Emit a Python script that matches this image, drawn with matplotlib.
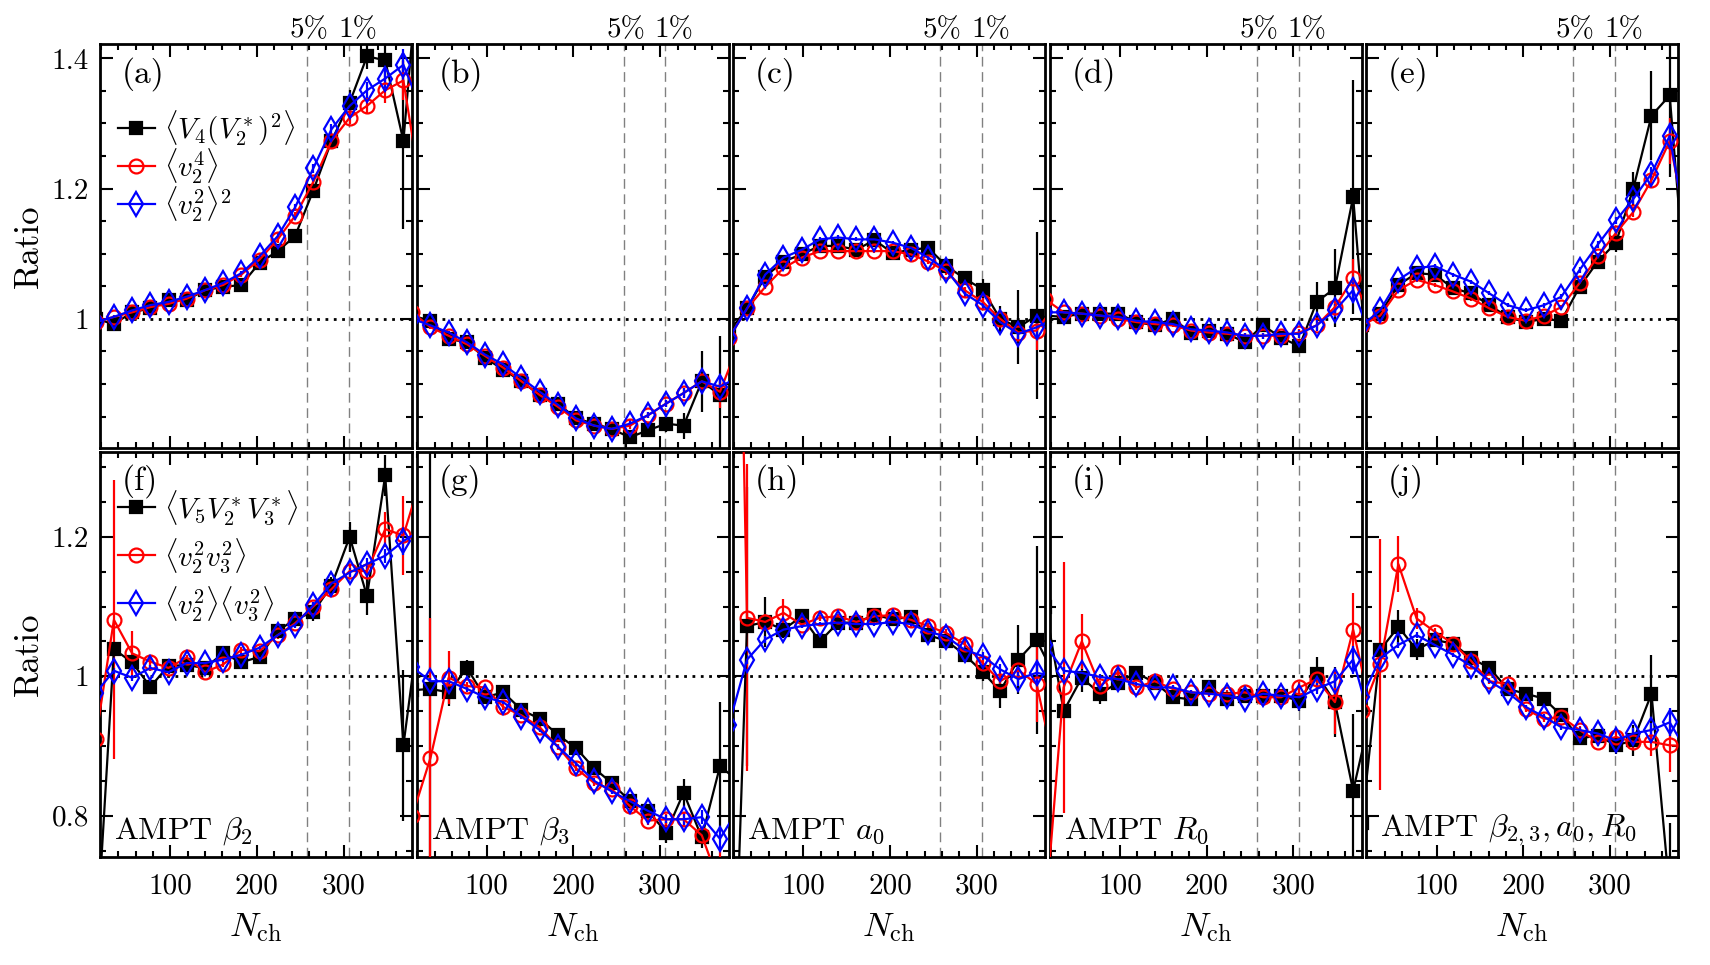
import matplotlib
matplotlib.use("Agg")
import matplotlib.pyplot as plt
import matplotlib.transforms as mtransforms
from matplotlib.ticker import MultipleLocator, FuncFormatter

plt.rcParams["font.family"] = "cmr10"
plt.rcParams["mathtext.fontset"] = "cm"
plt.rcParams["axes.formatter.use_mathtext"] = True
plt.rcParams["axes.unicode_minus"] = False

# N_ch bin positions (first and last lie outside the axes and only feed the clipped lines)
nch = [14, 35, 56, 77, 98, 119, 140, 161, 182, 203, 224, 244, 265, 286, 307, 327, 348, 369, 390]

# ---- top row: <V4 (V2*)^2>, <v2^4>, <v2^2>^2
a_blk = [1.0, 0.992, 1.010, 1.016, 1.029, 1.029, 1.044, 1.049, 1.052, 1.086, 1.104, 1.127, 1.197, 1.273, 1.332, 1.403, 1.397, 1.273, 1.60]
a_blk_err = [0, .004, .004, .004, .004, .004, .004, .005, .005, .006, .006, .008, .010, .012, .020, .020, .025, .135, 0]
a_red = [0.995, 1.003, 1.010, 1.018, 1.023, 1.031, 1.044, 1.052, 1.068, 1.091, 1.122, 1.158, 1.210, 1.273, 1.309, 1.327, 1.351, 1.366, 1.19]
a_red_err = [0, .003, .003, .003, .003, .003, .003, .004, .004, .004, .005, .006, .007, .008, .010, .012, .020, .030, 0]
a_blu = [0.995, 1.003, 1.013, 1.021, 1.026, 1.034, 1.044, 1.055, 1.070, 1.096, 1.127, 1.171, 1.231, 1.291, 1.327, 1.351, 1.369, 1.390, 1.32]
a_blu_err = [0, .003, .003, .003, .003, .003, .003, .004, .004, .004, .005, .006, .007, .008, .010, .012, .015, .025, 0]

b_blk = [1.005, 0.997, 0.969, 0.964, 0.940, 0.922, 0.904, 0.883, 0.870, 0.847, 0.839, 0.831, 0.818, 0.829, 0.839, 0.836, 0.904, 0.883, 0.90]
b_blk_err = [0, .004, .004, .004, .004, .004, .004, .004, .004, .005, .005, .006, .006, .008, .012, .020, .047, .090, 0]
b_red = [1.01, 0.987, 0.974, 0.961, 0.943, 0.925, 0.904, 0.883, 0.865, 0.844, 0.836, 0.831, 0.836, 0.852, 0.870, 0.886, 0.904, 0.888, 0.96]
b_red_err = [0, .003, .003, .003, .003, .003, .003, .003, .003, .003, .004, .004, .005, .005, .006, .008, .012, .025, 0]
b_blu = [1.0, 0.990, 0.979, 0.964, 0.945, 0.930, 0.909, 0.888, 0.868, 0.847, 0.836, 0.831, 0.839, 0.852, 0.870, 0.886, 0.904, 0.896, 0.91]
b_blu_err = [0, .003, .003, .003, .003, .003, .003, .003, .003, .003, .004, .004, .005, .005, .006, .008, .010, .015, 0]

c_blk = [0.98, 1.016, 1.065, 1.088, 1.099, 1.112, 1.112, 1.106, 1.121, 1.101, 1.106, 1.109, 1.081, 1.062, 1.045, 1.000, 0.987, 1.005, 1.0]
c_blk_err = [0, .004, .004, .004, .004, .004, .004, .004, .004, .004, .005, .006, .008, .010, .016, .020, .057, .128, 0]
c_red = [0.97, 1.016, 1.049, 1.078, 1.094, 1.104, 1.104, 1.104, 1.104, 1.104, 1.099, 1.088, 1.073, 1.044, 1.026, 1.000, 0.979, 0.982, 1.02]
c_red_err = [0, .003, .003, .003, .003, .003, .003, .003, .003, .003, .004, .004, .005, .005, .006, .008, .012, .030, 0]
c_blu = [0.97, 1.016, 1.068, 1.094, 1.106, 1.122, 1.125, 1.122, 1.122, 1.117, 1.109, 1.094, 1.075, 1.039, 1.021, 0.995, 0.977, 0.987, 1.0]
c_blu_err = [0, .003, .003, .003, .003, .003, .003, .003, .003, .003, .004, .004, .005, .005, .006, .008, .010, .015, 0]

d_blk = [1.005, 1.003, 1.008, 1.008, 1.008, 0.995, 0.990, 1.000, 0.979, 0.982, 0.977, 0.964, 0.990, 0.971, 0.958, 1.026, 1.047, 1.187, 0.85]
d_blk_err = [0, .004, .004, .004, .004, .004, .004, .004, .004, .004, .005, .006, .006, .008, .010, .030, .060, .180, 0]
d_red = [1.03, 1.010, 1.008, 1.005, 1.000, 0.995, 0.992, 0.990, 0.982, 0.979, 0.977, 0.974, 0.974, 0.974, 0.979, 0.990, 1.018, 1.062, 1.0]
d_red_err = [0, .003, .003, .003, .003, .003, .003, .003, .003, .003, .004, .004, .005, .005, .006, .008, .010, .030, 0]
d_blu = [1.01, 1.010, 1.008, 1.005, 1.003, 0.997, 0.995, 0.992, 0.984, 0.982, 0.979, 0.974, 0.974, 0.977, 0.977, 0.990, 1.013, 1.044, 0.97]
d_blu_err = [0, .003, .003, .003, .003, .003, .003, .003, .003, .003, .004, .004, .005, .005, .006, .008, .010, .020, 0]

e_blk = [0.99, 1.008, 1.052, 1.070, 1.068, 1.047, 1.039, 1.021, 1.003, 0.995, 1.000, 0.997, 1.049, 1.088, 1.117, 1.200, 1.312, 1.343, 1.0]
e_blk_err = [0, .004, .004, .004, .004, .004, .004, .004, .004, .004, .005, .006, .008, .010, .015, .025, .068, .125, 0]
e_red = [0.99, 1.005, 1.044, 1.060, 1.052, 1.042, 1.031, 1.016, 1.003, 0.997, 1.005, 1.018, 1.055, 1.096, 1.132, 1.164, 1.213, 1.273, 1.13]
e_red_err = [0, .003, .003, .003, .003, .003, .003, .003, .003, .003, .004, .004, .005, .005, .006, .008, .012, .035, 0]
e_blu = [0.99, 1.013, 1.060, 1.078, 1.081, 1.068, 1.057, 1.039, 1.021, 1.013, 1.021, 1.034, 1.075, 1.114, 1.151, 1.184, 1.223, 1.281, 1.12]
e_blu_err = [0, .003, .003, .003, .003, .003, .003, .003, .003, .003, .004, .004, .005, .005, .006, .008, .010, .020, 0]

# ---- bottom row: <V5 V2* V3*>, <v2^2 v3^2>, <v2^2><v3^2>
f_blk = [0.60, 1.039, 1.020, 0.985, 1.015, 1.016, 1.012, 1.033, 1.020, 1.028, 1.065, 1.082, 1.092, 1.130, 1.200, 1.115, 1.288, 0.901, 1.10]
f_blk_err = [0, .006, .006, .010, .006, .005, .005, .005, .005, .005, .006, .008, .012, .012, .021, .027, .030, .108, 0]
f_red = [0.91, 1.081, 1.033, 1.021, 1.012, 1.027, 1.006, 1.017, 1.038, 1.036, 1.059, 1.076, 1.100, 1.125, 1.151, 1.151, 1.211, 1.202, 1.288]
f_red_err = [0, .200, .032, .010, .005, .004, .004, .004, .004, .004, .005, .005, .006, .006, .008, .010, .025, .057, 0]
f_blu = [0.976, 1.008, 0.998, 1.012, 1.006, 1.019, 1.019, 1.024, 1.031, 1.041, 1.059, 1.074, 1.102, 1.133, 1.149, 1.161, 1.173, 1.194, 1.21]
f_blu_err = [0, .004, .004, .004, .003, .003, .003, .003, .003, .003, .004, .004, .005, .005, .006, .008, .010, .020, 0]

g_blk = [0.98, 0.982, 0.977, 1.012, 0.970, 0.977, 0.952, 0.939, 0.916, 0.897, 0.868, 0.847, 0.821, 0.807, 0.776, 0.833, 0.769, 0.871, 0.85]
g_blk_err = [0, .350, .020, .012, .006, .005, .005, .005, .005, .005, .006, .006, .008, .010, .015, .020, .015, .092, 0]
g_red = [0.80, 0.883, 0.998, 0.986, 0.984, 0.956, 0.944, 0.927, 0.899, 0.868, 0.847, 0.838, 0.814, 0.793, 0.795, 0.795, 0.772, 0.70, 0.65]
g_red_err = [0, .200, .038, .006, .005, .004, .004, .004, .004, .004, .005, .005, .006, .006, .008, .010, .010, .050, 0]
g_blu = [1.013, 0.993, 0.993, 0.982, 0.970, 0.963, 0.942, 0.923, 0.899, 0.875, 0.850, 0.835, 0.821, 0.807, 0.795, 0.795, 0.798, 0.767, 0.81]
g_blu_err = [0, .005, .004, .004, .003, .003, .003, .003, .003, .003, .004, .004, .005, .005, .006, .008, .010, .015, 0]

h_blk = [0.30, 1.072, 1.078, 1.067, 1.086, 1.050, 1.077, 1.077, 1.088, 1.082, 1.085, 1.059, 1.051, 1.031, 1.006, 0.979, 1.024, 1.052, 1.0]
h_blk_err = [0, .200, .036, .012, .006, .005, .005, .005, .005, .005, .006, .006, .008, .010, .012, .025, .050, .135, 0]
h_red = [2.40, 1.084, 1.078, 1.091, 1.074, 1.084, 1.086, 1.078, 1.086, 1.088, 1.081, 1.072, 1.062, 1.046, 1.019, 0.993, 1.009, 0.989, 0.87]
h_red_err = [0, .220, .012, .020, .005, .004, .004, .004, .004, .004, .005, .005, .006, .006, .008, .010, .012, .055, 0]
h_blu = [0.93, 1.024, 1.053, 1.067, 1.072, 1.075, 1.077, 1.075, 1.075, 1.078, 1.075, 1.064, 1.057, 1.038, 1.029, 1.010, 0.996, 1.005, 1.0]
h_blu_err = [0, .006, .005, .004, .003, .003, .003, .003, .003, .003, .004, .004, .005, .005, .006, .008, .010, .015, 0]

i_blk = [1.10, 0.950, 0.998, 0.975, 0.991, 1.005, 0.991, 0.970, 0.967, 0.984, 0.967, 0.972, 0.972, 0.972, 0.965, 1.003, 0.963, 0.836, 0.95]
i_blk_err = [0, .010, .020, .015, .006, .005, .005, .005, .005, .005, .006, .006, .008, .010, .015, .024, .050, .110, 0]
i_red = [0.66, 0.984, 1.050, 0.986, 1.006, 0.984, 0.993, 0.982, 0.977, 0.975, 0.975, 0.977, 0.970, 0.970, 0.984, 0.996, 0.963, 1.067, 0.95]
i_red_err = [0, .180, .040, .008, .005, .004, .004, .004, .004, .004, .005, .005, .006, .006, .008, .010, .046, .053, 0]
i_blu = [1.045, 1.008, 1.005, 0.999, 0.996, 0.989, 0.984, 0.984, 0.977, 0.975, 0.972, 0.967, 0.975, 0.972, 0.970, 0.982, 0.993, 1.024, 0.93]
i_blu_err = [0, .005, .004, .004, .003, .003, .003, .003, .003, .003, .004, .004, .005, .005, .006, .008, .010, .020, 0]

j_blk = [0.79, 1.038, 1.071, 1.038, 1.052, 1.047, 1.026, 1.012, 0.982, 0.975, 0.968, 0.944, 0.911, 0.915, 0.901, 0.908, 0.975, 0.69, 0.60]
j_blk_err = [0, .010, .024, .015, .006, .005, .005, .005, .005, .005, .006, .006, .008, .010, .012, .022, .055, .100, 0]
j_red = [0.95, 1.017, 1.161, 1.083, 1.064, 1.047, 1.022, 0.993, 0.989, 0.953, 0.939, 0.942, 0.923, 0.906, 0.913, 0.906, 0.906, 0.901, 0.90]
j_red_err = [0, .180, .040, .015, .006, .004, .004, .004, .004, .004, .005, .005, .006, .006, .008, .010, .020, .038, 0]
j_blu = [0.97, 1.026, 1.045, 1.059, 1.045, 1.031, 1.015, 0.993, 0.977, 0.956, 0.942, 0.927, 0.923, 0.918, 0.908, 0.918, 0.923, 0.934, 0.89]
j_blu_err = [0, .005, .004, .004, .003, .003, .003, .003, .003, .003, .004, .004, .005, .005, .006, .008, .010, .020, 0]

top_labels = [r"$\langle V_4(V_2^*)^2\rangle$", r"$\langle v_2^4\rangle$", r"$\langle v_2^2\rangle^2$"]
bottom_labels = [r"$\langle V_5V_2^*V_3^*\rangle$", r"$\langle v_2^2v_3^2\rangle$",
                 r"$\langle v_2^2\rangle\langle v_3^2\rangle$"]
model_tags = [r"AMPT $\beta_2$", r"AMPT $\beta_3$", r"AMPT $a_0$", r"AMPT $R_0$",
              r"AMPT $\beta_{2,3}, a_0, R_0$"]
centrality_cuts = [258, 306]
centrality_text = [("5%", 260), ("1%", 316)]

top_data = [
    (a_blk, a_blk_err, a_red, a_red_err, a_blu, a_blu_err),
    (b_blk, b_blk_err, b_red, b_red_err, b_blu, b_blu_err),
    (c_blk, c_blk_err, c_red, c_red_err, c_blu, c_blu_err),
    (d_blk, d_blk_err, d_red, d_red_err, d_blu, d_blu_err),
    (e_blk, e_blk_err, e_red, e_red_err, e_blu, e_blu_err),
]
bottom_data = [
    (f_blk, f_blk_err, f_red, f_red_err, f_blu, f_blu_err),
    (g_blk, g_blk_err, g_red, g_red_err, g_blu, g_blu_err),
    (h_blk, h_blk_err, h_red, h_red_err, h_blu, h_blu_err),
    (i_blk, i_blk_err, i_red, i_red_err, i_blu, i_blu_err),
    (j_blk, j_blk_err, j_red, j_red_err, j_blu, j_blu_err),
]


def draw_panel(ax, data, labels):
    """Draws the three series of one panel, returns the line handles."""
    blk, blk_err, red, red_err, blu, blu_err = data
    styles = [
        (blk, blk_err, "black", "s", 9, "black"),
        (red, red_err, "red", "o", 10, "none"),
        (blu, blu_err, "blue", "d", 12, "none"),
    ]
    handles = []
    for (vals, errs, col, mk, ms, mfc), lab in zip(styles, labels):
        ax.errorbar(nch, vals, yerr=errs, fmt="none", ecolor=col, elinewidth=1.6, capsize=0, zorder=3)
        line, = ax.plot(nch, vals, color=col, lw=1.6, marker=mk, ms=ms, mfc=mfc,
                        mec=col, mew=1.6, label=lab, zorder=4)
        handles.append(line)
    return handles


fig, axes = plt.subplots(2, 5, figsize=(17.1, 9.65), dpi=100)
fig.subplots_adjust(left=0.0585, right=0.9815, top=0.9544, bottom=0.112, wspace=0.0145, hspace=0.01)

for row in range(2):
    for col in range(5):
        ax = axes[row, col]
        if row == 0:
            handles = draw_panel(ax, top_data[col], top_labels)
            ax.set_ylim(0.801, 1.422)
        else:
            handles = draw_panel(ax, bottom_data[col], bottom_labels)
            ax.set_ylim(0.741, 1.321)
        ax.set_xlim(19, 379)
        ax.xaxis.set_major_locator(MultipleLocator(100))
        ax.xaxis.set_minor_locator(MultipleLocator(20))
        ax.yaxis.set_major_locator(MultipleLocator(0.2))
        ax.yaxis.set_minor_locator(MultipleLocator(0.05))
        ax.yaxis.set_major_formatter(FuncFormatter(lambda v, p: "%g" % round(v, 2)))
        ax.xaxis.set_major_formatter(FuncFormatter(lambda v, p: "%d" % v))

        ax.axhline(1.0, color="black", ls=(0, (1, 2)), lw=2, zorder=1)
        for xc in centrality_cuts:
            ax.axvline(xc, color="gray", ls=(0, (7, 4)), lw=1.0, zorder=0.5)

        ax.tick_params(which="both", direction="in", top=True, right=True, width=1.5,
                       labelsize=21)
        ax.tick_params(axis="y", pad=8)
        ax.tick_params(axis="x", pad=12)
        ax.tick_params(which="major", length=9)
        ax.tick_params(which="minor", length=4.5)
        for sp in ax.spines.values():
            sp.set_linewidth(2.0)

        if col != 0:
            ax.tick_params(labelleft=False)
        if row == 0:
            ax.tick_params(labelbottom=False)
            trans = mtransforms.blended_transform_factory(ax.transData, ax.transAxes)
            for txt, xt in centrality_text:
                ax.text(xt, 1.018, txt, transform=trans, ha="center", va="baseline", fontsize=21)
        else:
            ax.set_xlabel(r"$N_{\rm ch}$", fontsize=25, labelpad=8)
            ax.text(0.045, 0.065, model_tags[col], transform=ax.transAxes, ha="left",
                    va="center", fontsize=23)

        letter = "abcdefghij"[row * 5 + col]
        ax.text(0.07, 0.925 if row == 0 else 0.93, "(%s)" % letter, transform=ax.transAxes,
                ha="left", va="center", fontsize=24)

        if col == 0:
            ax.set_ylabel("Ratio", fontsize=25, labelpad=5)
            ax.legend(handles=handles, loc="upper left",
                      bbox_to_anchor=(0.0, 0.885) if row == 0 else (0.0, 0.955),
                      frameon=False, fontsize=21, handlelength=1.3, handletextpad=0.3,
                      labelspacing=-0.05 if row == 0 else 0.3, borderpad=0.3, borderaxespad=0.3)

fig.savefig("out.png", dpi=100)
